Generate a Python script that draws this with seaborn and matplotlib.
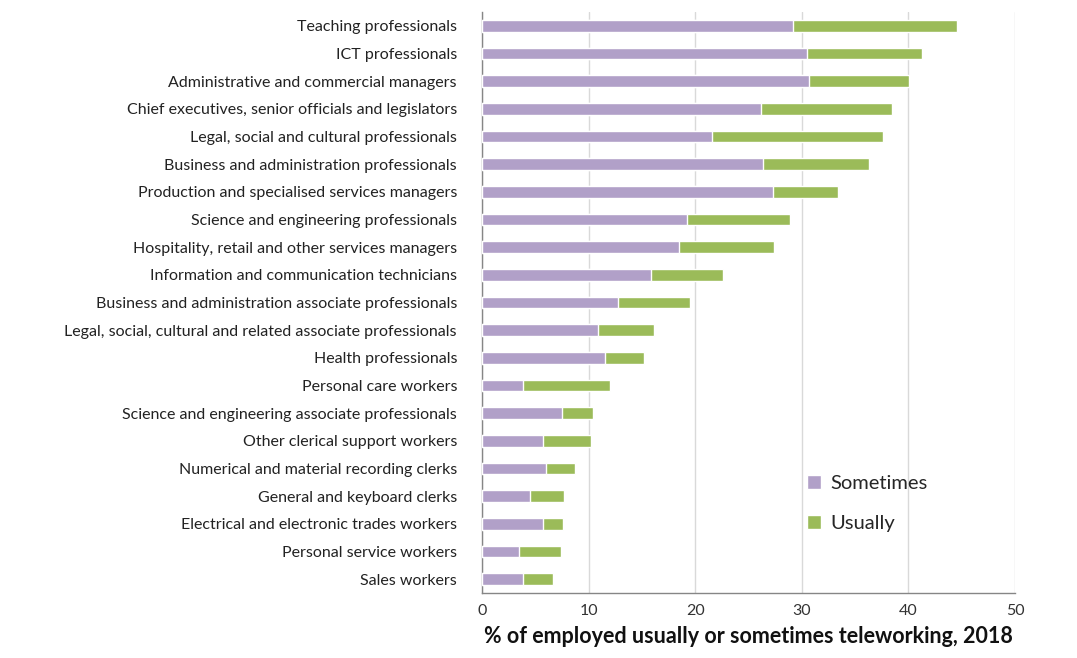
import numpy as np
import pandas as pd
import matplotlib.pyplot as plt
import seaborn as sns
from matplotlib.patches import Patch

# occupations, top to bottom
occupations = [
    "Teaching professionals",
    "ICT professionals",
    "Administrative and commercial managers",
    "Chief executives, senior officials and legislators",
    "Legal, social and cultural professionals",
    "Business and administration professionals",
    "Production and specialised services managers",
    "Science and engineering professionals",
    "Hospitality, retail and other services managers",
    "Information and communication technicians",
    "Business and administration associate professionals",
    "Legal, social, cultural and related associate professionals",
    "Health professionals",
    "Personal care workers",
    "Science and engineering associate professionals",
    "Other clerical support workers",
    "Numerical and material recording clerks",
    "General and keyboard clerks",
    "Electrical and electronic trades workers",
    "Personal service workers",
    "Sales workers",
]
sometimes = [29.2, 30.5, 30.7, 26.2, 21.6, 26.4, 27.3, 19.2, 18.5, 15.9, 12.8,
             10.9, 11.5, 3.8, 7.5, 5.7, 6.0, 4.5, 5.7, 3.5, 3.8]
usually = [15.4, 10.8, 9.4, 12.3, 16.0, 9.9, 6.1, 9.7, 8.9, 6.7, 6.7,
           5.2, 3.7, 8.2, 2.9, 4.5, 2.7, 3.2, 1.9, 3.9, 2.9]

df = pd.DataFrame({"occupation": occupations, "Sometimes": sometimes, "Usually": usually})
df["total"] = df["Sometimes"] + df["Usually"]

purple = "#b1a0c8"
green = "#9bbb59"

sns.set_style("white")
plt.rcParams["font.family"] = ["Lato", "DejaVu Sans"]

fig = plt.figure(figsize=(10.77, 6.58), dpi=100)
ax = fig.add_axes([482 / 1077, 1 - 593 / 658, (1015 - 482) / 1077, (593 - 12) / 658])

sns.barplot(data=df, x="total", y="occupation", color=green, width=0.42,
            saturation=1, ax=ax, zorder=3)
sns.barplot(data=df, x="Sometimes", y="occupation", color=purple, width=0.42,
            saturation=1, ax=ax, zorder=4)

ax.set_xlim(0, 50)
ax.set_ylim(len(occupations) - 0.5, -0.5)
ax.set_xticks(range(0, 51, 10))
ax.set_ylabel("")
ax.set_xlabel("% of employed usually or sometimes teleworking, 2018",
              fontsize=15.5, fontweight="bold", color="#111111", labelpad=6)
ax.grid(axis="x", color="#d9d9d9", linewidth=1, zorder=0)
ax.set_axisbelow(True)

for s in ["top", "right"]:
    ax.spines[s].set_visible(False)
for s in ["left", "bottom"]:
    ax.spines[s].set_color("#868686")
    ax.spines[s].set_linewidth(1)

# ticks between categories on y, at majors on x
ax.tick_params(axis="y", which="major", length=0, labelsize=11.5, labelcolor="#222222", pad=18)
ax.set_yticks(np.arange(-0.5, len(occupations), 1), minor=True)
ax.tick_params(axis="y", which="minor", length=5, color="#868686", direction="out")
ax.tick_params(axis="x", which="major", length=5, color="#868686", labelsize=11.5,
               labelcolor="#333333", pad=3)

handles = [Patch(facecolor=purple, label="Sometimes"), Patch(facecolor=green, label="Usually")]
ax.legend(handles=handles, loc="upper left", bbox_to_anchor=(0.575, 0.235), frameon=False,
          fontsize=14.5, handlelength=0.7, handleheight=0.7, handletextpad=0.5,
          labelspacing=1.15)

fig.savefig("out.png", dpi=100)
